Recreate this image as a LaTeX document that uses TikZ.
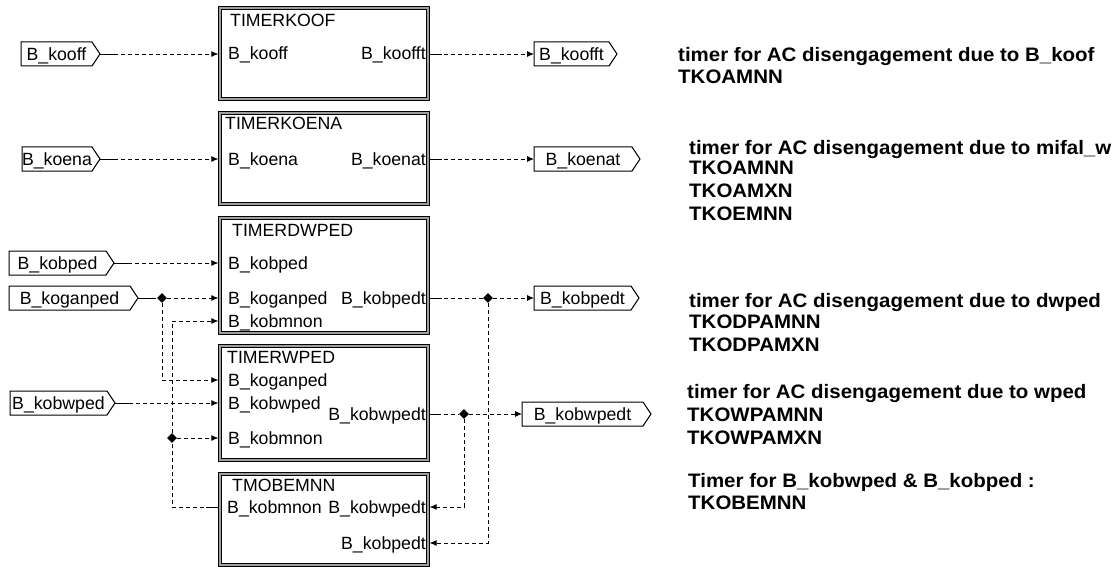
\documentclass[tikz,border=0pt]{standalone}
\usepackage{fontspec}
\setmainfont{Liberation Sans}
\newfontfamily\descfont{Liberation Sans}[FakeStretch=1.05]
\usetikzlibrary{arrows.meta,shapes.geometric}

\newcommand\flagnode[5]{%
  \node[flagbody, minimum width={(#3)-(#2)-8}] (#1) at ({((#2)+(#3)-8)/2},#4) {#5};
  \draw[flagline] (#1.north west) -- (#1.north east) -- ([xshift=8pt]#1.east) -- (#1.south east) -- (#1.south west) -- cycle;
  \coordinate (#1-tip) at ([xshift=8pt]#1.east);
}

\begin{document}
\begin{tikzpicture}[x=1pt,y=-1pt,
  font=\fontsize{17.7}{20}\selectfont,
  flagbody/.style={inner sep=0, outer sep=0, minimum height=24pt, text height=12.7pt, text depth=0pt},
  flagline/.style={line width=1pt},
  block/.style={draw, line width=1pt, double=gray!75, double distance=1.3pt, inner sep=0, outer sep=0, anchor=north west, minimum width=208pt},
  lbl/.style={inner sep=0, anchor=base west},
  rlbl/.style={inner sep=0, anchor=base east},
  desc/.style={inner sep=0, anchor=base west, font=\descfont\bfseries\fontsize{19.5}{22}\selectfont},
  wire/.style={line width=0.9pt, dash pattern=on 4pt off 3pt, -{Latex[length=7pt,width=6pt]}},
  wirenoarrow/.style={line width=0.9pt, dash pattern=on 4pt off 3pt},
  stub/.style={line width=0.9pt},
  junc/.style={diamond, fill, inner sep=0, minimum size=10pt}]

\useasboundingbox (0,0) rectangle (1116,567);

% blocks
\node[block, minimum height=91pt] (koof) at (220,8) {};
\node[block, minimum height=91pt] (koena) at (220,113) {};
\node[block, minimum height=115pt] (dw) at (220,218) {};
\node[block, minimum height=114pt] (wp) at (220,346) {};
\node[block, minimum height=91pt] (mo) at (220,474) {};

% titles and port labels
\node[lbl] (t1) at (230,27) {TIMERKOOF};
\node[lbl] (l1a) at (228,60) {B\_kooff};
\node[rlbl] (l1b) at (426,60) {B\_koofft};

\node[lbl] (t2) at (225,130) {TIMERKOENA};
\node[lbl] (l2a) at (228,165) {B\_koena};
\node[rlbl] (l2b) at (426,165) {B\_koenat};

\node[lbl] (t3) at (232,236) {TIMERDWPED};
\node[lbl] (l3a) at (228,269) {B\_kobped};
\node[lbl] (l3b) at (228,304) {B\_koganped};
\node[lbl] (l3c) at (228,327) {B\_kobmnon};
\node[rlbl] (l3d) at (426,304) {B\_kobpedt};

\node[lbl] (t4) at (227,363) {TIMERWPED};
\node[lbl] (l4a) at (228,386) {B\_koganped};
\node[lbl] (l4b) at (228,409) {B\_kobwped};
\node[lbl] (l4c) at (228,444) {B\_kobmnon};
\node[rlbl] (l4d) at (426,420) {B\_kobwpedt};

\node[lbl] (t5) at (232,491) {TMOBEMNN};
\node[lbl] (l5a) at (227,513) {B\_kobmnon};
\node[rlbl] (l5b) at (426,513) {B\_kobwpedt};
\node[rlbl] (l5c) at (426,549) {B\_kobpedt};

% port points
\coordinate (koof-i) at (218.4,54);
\coordinate (koof-o) at (429.6,54);
\coordinate (koena-i) at (218.4,159);
\coordinate (koena-o) at (429.6,159);
\coordinate (dw-i1) at (218.4,263);
\coordinate (dw-i2) at (218.4,298);
\coordinate (dw-i3) at (218.4,321);
\coordinate (dw-o) at (429.6,298);
\coordinate (wp-i1) at (218.4,380);
\coordinate (wp-i2) at (218.4,403);
\coordinate (wp-i3) at (218.4,438);
\coordinate (wp-o) at (429.6,414);
\coordinate (mo-o) at (218.4,507);
\coordinate (mo-i1) at (429.6,507);
\coordinate (mo-i2) at (429.6,543);

% flags
\flagnode{fkooff}{21}{100}{54}{B\_kooff}
\flagnode{fkoena}{22}{100}{159}{B\_koena}
\flagnode{fkobped}{9}{114}{263}{B\_kobped}
\flagnode{fkoganped}{9}{138}{298}{B\_koganped}
\flagnode{fkobwped}{10}{115}{403}{B\_kobwped}
\flagnode{fkoofft}{534}{617}{54}{B\_koofft}
\flagnode{fkoenat}{534}{640}{159}{B\_koenat}
\flagnode{fkobpedt}{534}{639}{298}{B\_kobpedt}
\flagnode{fkobwpedt}{522}{651}{414}{B\_kobwpedt}

% junctions
\node[junc] (j1) at (162,298) {};
\node[junc] (j2) at (488,298) {};
\node[junc] (j3) at (172,438) {};
\node[junc] (j4) at (464,414) {};

% wires
\draw[wire] (fkooff-tip) -- (koof-i);
\draw[wire] (koof-o) -- (fkoofft.west);
\draw[wire] (fkoena-tip) -- (koena-i);
\draw[wire] (koena-o) -- (fkoenat.west);
\draw[wire] (fkobped-tip) -- (dw-i1);
\draw[wirenoarrow] (fkoganped-tip) -- (j1);
\draw[wire] (j1) -- (dw-i2);
\draw[wire] (j1) |- (wp-i1);
\draw[wirenoarrow] (mo-o) -| (j3);
\draw[wire] (j3) -- (wp-i3);
\draw[wire] (j3) |- (dw-i3);
\draw[wire] (fkobwped-tip) -- (wp-i2);
\draw[wirenoarrow] (dw-o) -- (j2);
\draw[wire] (j2) -- (fkobpedt.west);
\draw[wire] (j2) |- (mo-i2);
\draw[wirenoarrow] (wp-o) -- (j4);
\draw[wire] (j4) -- (fkobwpedt.west);
\draw[wire] (j4) |- (mo-i1);

% solid stubs at sources
\draw[stub] (fkooff-tip) -- ++(14,0);
\draw[stub] (fkoena-tip) -- ++(14,0);
\draw[stub] (fkobped-tip) -- ++(14,0);
\draw[stub] (fkoganped-tip) -- ++(14,0);
\draw[stub] (fkobwped-tip) -- ++(14,0);
\draw[stub] (koof-o) -- ++(12,0);
\draw[stub] (koena-o) -- ++(12,0);
\draw[stub] (dw-o) -- ++(12,0);
\draw[stub] (wp-o) -- ++(8,0);
\draw[stub] (mo-o) -- ++(-12,0);

% descriptions
\node[desc] (d1a) at (678,62) {timer for AC disengagement due to B\_koof};
\node[desc] (d1b) at (678,84) {TKOAMNN};
\node[desc] (d2a) at (689,154) {timer for AC disengagement due to mifal\_w};
\node[desc] (d2b) at (689,175) {TKOAMNN};
\node[desc] (d2c) at (689,197) {TKOAMXN};
\node[desc] (d2d) at (689,220) {TKOEMNN};
\node[desc] (d3a) at (689,307) {timer for AC disengagement due to dwped};
\node[desc] (d3b) at (689,328) {TKODPAMNN};
\node[desc] (d3c) at (689,351) {TKODPAMXN};
\node[desc] (d4a) at (687,398) {timer for AC disengagement due to wped};
\node[desc] (d4b) at (687,421) {TKOWPAMNN};
\node[desc] (d4c) at (687,444) {TKOWPAMXN};
\node[desc] (d5a) at (688,487) {Timer for B\_kobwped \& B\_kobped :};
\node[desc] (d5b) at (688,509) {TKOBEMNN};
\end{tikzpicture}
\end{document}
